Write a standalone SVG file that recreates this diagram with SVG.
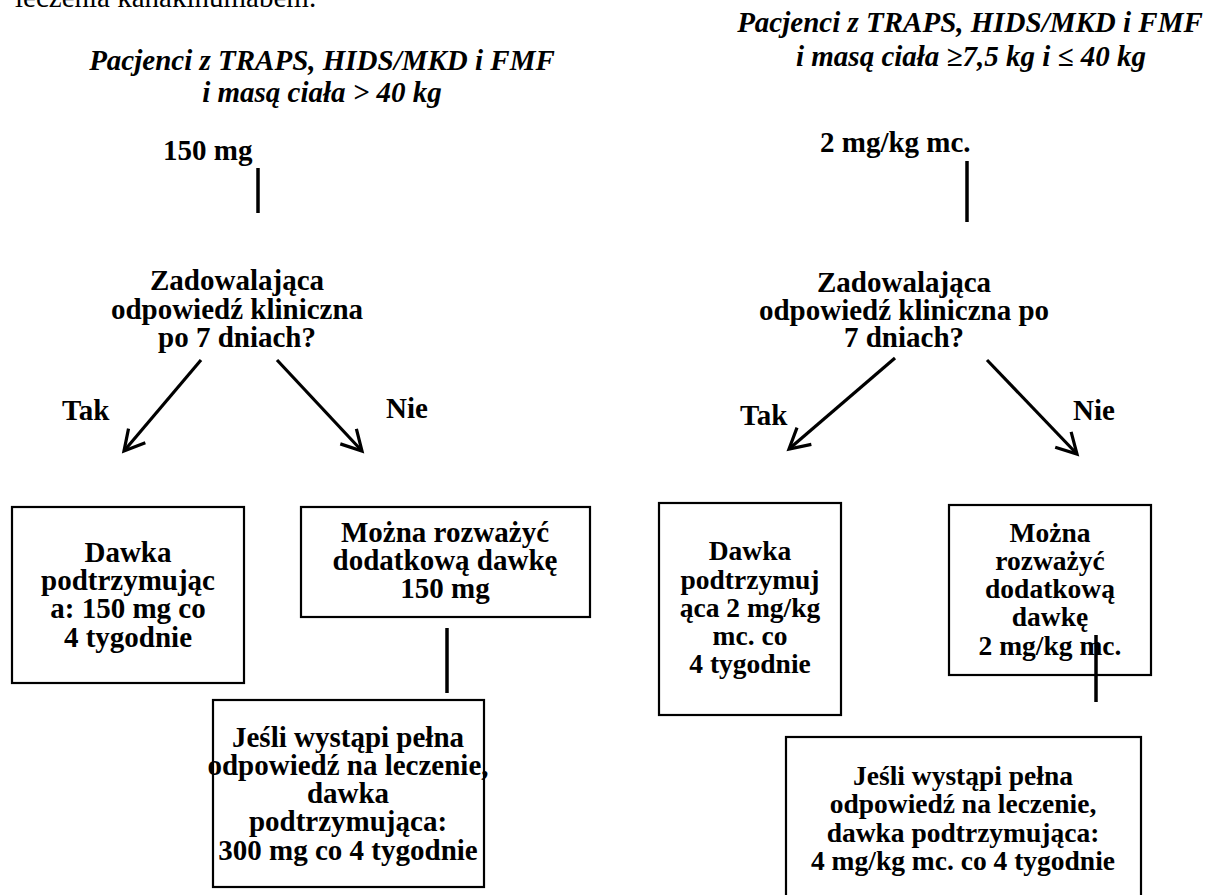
<svg xmlns="http://www.w3.org/2000/svg" width="1206" height="895" viewBox="0 0 1206 895">
<style>
text{font-family:"Liberation Serif","Times New Roman",serif;fill:#000}
.t{font-size:29px;font-weight:bold;font-style:italic;text-anchor:middle}
.b{font-size:29px;font-weight:bold;text-anchor:middle}
.bl{font-size:29px;font-weight:bold}
.s{font-size:27.5px;font-weight:bold;text-anchor:middle}
.r{font-size:29px}
.box{fill:#fff;stroke:#000;stroke-width:2.2}
.ln{stroke:#000;stroke-width:3.5;fill:none}
.ar{stroke:#000;stroke-width:3.2;fill:none}
</style>
<defs>
<marker id="ah" markerUnits="userSpaceOnUse" markerWidth="30" markerHeight="30" refX="22" refY="12" orient="auto" viewBox="0 0 30 24">
<path d="M2,1 L22,12 L2,23" fill="none" stroke="#000" stroke-width="3.2"/>
</marker>
</defs>
<rect width="1206" height="895" fill="#fff"/>
<text class="r" x="15" y="7">leczenia kanakinumabem.</text>
<g id="title-left">
<text class="t" x="322" y="70">Pacjenci z TRAPS, HIDS/MKD i FMF</text>
<text class="t" x="322" y="102">i masą ciała &gt; 40 kg</text>
</g>
<g id="title-right">
<text class="t" x="970" y="32">Pacjenci z TRAPS, HIDS/MKD i FMF</text>
<text class="t" x="971" y="66">i masą ciała ≥7,5 kg i ≤ 40 kg</text>
</g>
<g id="dose-left"><text class="bl" x="163" y="160">150 mg</text></g>
<g id="dose-right"><text class="bl" x="820" y="152">2 mg/kg mc.</text></g>
<g id="question-left">
<text class="b" x="237" y="290">Zadowalająca</text>
<text class="b" x="237" y="318.5">odpowiedź kliniczna</text>
<text class="b" x="237" y="347">po 7 dniach?</text>
</g>
<g id="question-right">
<text class="b" x="904" y="292">Zadowalająca</text>
<text class="b" x="904" y="320">odpowiedź kliniczna po</text>
<text class="b" x="904" y="347">7 dniach?</text>
</g>
<g id="labels">
<text class="bl" x="62" y="420">Tak</text>
<text class="bl" x="386" y="418">Nie</text>
<text class="bl" x="740" y="425">Tak</text>
<text class="bl" x="1073" y="420">Nie</text>
</g>
<g id="box-left-yes">
<rect class="box" x="12" y="507" width="232" height="176"/>
<text class="b" x="128" y="562">Dawka</text>
<text class="b" x="128" y="590">podtrzymując</text>
<text class="b" x="128" y="618">a: 150 mg co</text>
<text class="b" x="128" y="647">4 tygodnie</text>
</g>
<g id="box-left-no">
<rect class="box" x="301" y="507" width="289" height="110"/>
<text class="b" x="445" y="542">Można rozważyć</text>
<text class="b" x="445" y="570">dodatkową dawkę</text>
<text class="b" x="445" y="598">150 mg</text>
</g>
<g id="box-left-full">
<rect class="box" x="213" y="700" width="271" height="187"/>
<text class="b" x="348" y="747">Jeśli wystąpi pełna</text>
<text class="b" x="348" y="775">odpowiedź na leczenie,</text>
<text class="b" x="348" y="803">dawka</text>
<text class="b" x="348" y="831">podtrzymująca:</text>
<text class="b" x="348" y="860">300 mg co 4 tygodnie</text>
</g>
<g id="box-right-yes">
<rect class="box" x="659" y="503" width="182" height="212"/>
<text class="s" x="750" y="560">Dawka</text>
<text class="s" x="750" y="589">podtrzymuj</text>
<text class="s" x="750" y="617">ąca 2 mg/kg</text>
<text class="s" x="750" y="645">mc. co</text>
<text class="s" x="750" y="673">4 tygodnie</text>
</g>
<g id="box-right-no">
<rect class="box" x="949" y="505" width="202" height="170"/>
<text class="s" x="1050" y="542">Można</text>
<text class="s" x="1050" y="570">rozważyć</text>
<text class="s" x="1050" y="598">dodatkową</text>
<text class="s" x="1050" y="626">dawkę</text>
<text class="s" x="1050" y="655">2 mg/kg mc.</text>
</g>
<g id="box-right-full">
<rect class="box" x="786" y="737" width="355" height="170"/>
<text class="s" x="963" y="785">Jeśli wystąpi pełna</text>
<text class="s" x="963" y="813">odpowiedź na leczenie,</text>
<text class="s" x="963" y="842">dawka podtrzymująca:</text>
<text class="s" x="963" y="870">4 mg/kg mc. co 4 tygodnie</text>
</g>
<g id="connectors">
<line class="ln" x1="258" y1="168" x2="258" y2="213"/>
<line class="ln" x1="967" y1="161" x2="967" y2="222"/>
<line class="ar" x1="201" y1="360" x2="124" y2="451" marker-end="url(#ah)"/>
<line class="ar" x1="277" y1="360" x2="362" y2="451" marker-end="url(#ah)"/>
<line class="ar" x1="895" y1="358" x2="789" y2="449" marker-end="url(#ah)"/>
<line class="ar" x1="987" y1="360" x2="1077" y2="454" marker-end="url(#ah)"/>
<line class="ln" x1="447" y1="628" x2="447" y2="693"/>
<line class="ln" x1="1096" y1="635" x2="1096" y2="702"/>
</g>
</svg>
